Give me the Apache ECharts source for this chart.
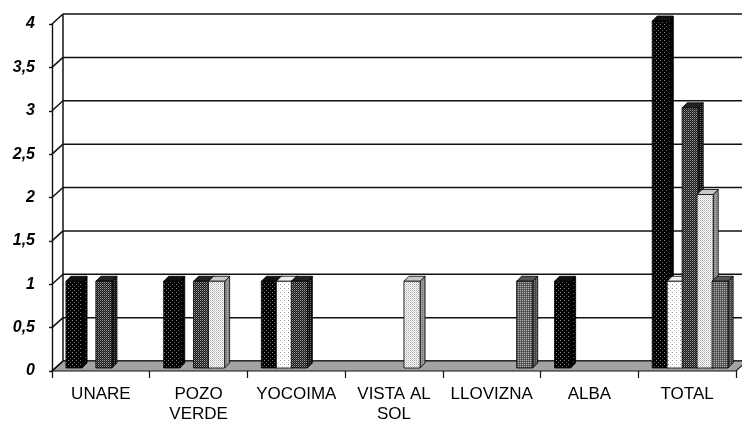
<!DOCTYPE html>
<html>
<head>
<meta charset="utf-8">
<script src="https://cdn.jsdelivr.net/npm/echarts@6/dist/echarts.min.js"></script>
<style>html,body{margin:0;padding:0;background:#fff}#c{width:742px;height:421px}</style>
</head>
<body>
<div id="c"></div>
<script>
const categories = ['UNARE', 'POZO\nVERDE', 'YOCOIMA', 'VISTA AL\nSOL', 'LLOVIZNA', 'ALBA', 'TOTAL'];
const serie1 = [1, 1, 1, 0, 0, 1, 4];
const serie2 = [0, 0, 1, 0, 0, 0, 1];
const serie3 = [1, 1, 1, 0, 0, 0, 3];
const serie4 = [0, 1, 0, 1, 0, 0, 2];
const serie5 = [0, 0, 0, 0, 1, 0, 1];
const yTickValues = [0, 0.5, 1, 1.5, 2, 2.5, 3, 3.5, 4];
const yTickLabels = ['0', '0,5', '1', '1,5', '2', '2,5', '3', '3,5', '4'];

function pat(size, bg, dots) {
  const cv = document.createElement('canvas');
  cv.width = size; cv.height = size;
  const g = cv.getContext('2d');
  g.fillStyle = bg; g.fillRect(0, 0, size, size);
  dots.forEach(d => { g.fillStyle = d[2]; g.fillRect(d[0], d[1], 1, 1); });
  return { image: cv, repeat: 'repeat' };
}
const styles = [
  { front: pat(4, '#000', [[0,0,'#8a8a8a'],[2,2,'#6a6a6a']]), side: pat(4, '#000', [[1,1,'#555']]), top: '#111' },
  { front: pat(4, '#fff', [[0,0,'#999'],[2,2,'#c8c8c8']]), side: pat(2, '#e0e0e0', [[0,0,'#aaa']]), top: '#eee' },
  { front: pat(2, '#1a1a1a', [[0,0,'#9a9a9a'],[1,1,'#555']]), side: pat(2, '#111', [[0,0,'#666']]), top: '#222' },
  { front: pat(2, '#fff', [[0,0,'#aaa'],[1,1,'#cfcfcf']]), side: pat(2, '#999', [[0,0,'#777']]), top: '#c8c8c8' },
  { front: pat(2, '#666', [[0,0,'#aaa'],[1,1,'#444']]), side: pat(2, '#444', [[0,0,'#888']]), top: '#555' }
];
const seriesData = [serie1, serie2, serie3, serie4, serie5];

const DX = 11, DY = 10;

function wallRender(params, api) {
  const cs = params.coordSys;
  const x0 = cs.x, x1 = cs.x + cs.width, yb = cs.y + cs.height;
  const children = [];
  const ln = { stroke: '#111', lineWidth: 1.5 };
  yTickValues.forEach(v => {
    const y = api.coord([0, v])[1];
    children.push({ type: 'line', shape: { x1: x0 + DX, y1: y - DY, x2: x1 + DX + 20, y2: y - DY }, style: ln });
  });
  children.push({ type: 'line', shape: { x1: x0 + DX, y1: cs.y - DY, x2: x0 + DX, y2: yb - DY }, style: ln });
  children.push({ type: 'polygon', shape: { points: [[x0, yb], [x1, yb], [x1 + DX, yb - DY], [x0 + DX, yb - DY]] }, style: { fill: '#a3a3a3', stroke: '#111', lineWidth: 1.2 } });
  yTickValues.forEach(v => {
    const y = api.coord([0, v])[1];
    children.push({ type: 'line', shape: { x1: x0, y1: y, x2: x0 + DX, y2: y - DY }, style: ln });
  });
  return { type: 'group', children };
}

function makeBarRender(i) {
  return function (params, api) {
    const v = api.value(1);
    if (!v) return;
    const c = api.value(0);
    const base = api.coord([c, 0]);
    const top = api.coord([c, v]);
    const cw = api.size([1, 0])[0];
    const w = cw * 0.165;
    const left = base[0] + (i - 2) * cw * 0.153 - cw * 0.082 + 3;
    const by = base[1] - 3, ty = top[1] - 3, d = 5;
    const st = styles[i];
    const stroke = { stroke: '#000', lineWidth: 0.8 };
    return {
      type: 'group',
      children: [
        { type: 'polygon', shape: { points: [[left + w, ty], [left + w + d, ty - d], [left + w + d, by - d], [left + w, by]] }, style: Object.assign({ fill: st.side }, stroke) },
        { type: 'polygon', shape: { points: [[left, ty], [left + d, ty - d], [left + w + d, ty - d], [left + w, ty]] }, style: Object.assign({ fill: st.top }, stroke) },
        { type: 'rect', shape: { x: left, y: ty, width: w, height: by - ty }, style: Object.assign({ fill: st.front }, stroke) }
      ]
    };
  };
}

const series = [{
  type: 'custom', name: 'wall', renderItem: wallRender, data: [[0, 0]], z: 1, silent: true
}];
seriesData.forEach((arr, i) => {
  series.push({
    type: 'custom', name: 'Serie ' + (i + 1), z: 2 + i,
    renderItem: makeBarRender(i),
    encode: { x: 0, y: 1 },
    data: arr.map((v, k) => [k, v])
  });
});

const chart = echarts.init(document.getElementById('c'), null, { renderer: 'canvas' });
chart.setOption({
  animation: false,
  backgroundColor: '#fff',
  grid: { left: 52, top: 24, width: 684, height: 347, containLabel: false, outerBoundsMode: 'none' },
  xAxis: {
    type: 'category', data: categories, boundaryGap: true,
    axisLine: { show: false },
    axisTick: { show: true, length: 7, lineStyle: { color: '#111', width: 1.2 } },
    axisLabel: { color: '#000', fontSize: 17, fontFamily: 'Liberation Sans, Arial, sans-serif', margin: 13, lineHeight: 20, interval: 0 },
    splitLine: { show: false }
  },
  yAxis: {
    type: 'value', min: 0, max: 4, interval: 0.5,
    axisLine: { show: true, lineStyle: { color: '#111', width: 1.4 } },
    axisTick: { show: true, length: 3, lineStyle: { color: '#111', width: 1.4 } },
    axisLabel: {
      color: '#000', fontSize: 16, fontWeight: 'bold', fontStyle: 'italic',
      fontFamily: 'Liberation Sans, Arial, sans-serif', margin: 17,
      formatter: v => { const k = yTickValues.indexOf(v); return k >= 0 ? yTickLabels[k] : ''; }
    },
    splitLine: { show: false }
  },
  series
});
</script>
</body>
</html>
